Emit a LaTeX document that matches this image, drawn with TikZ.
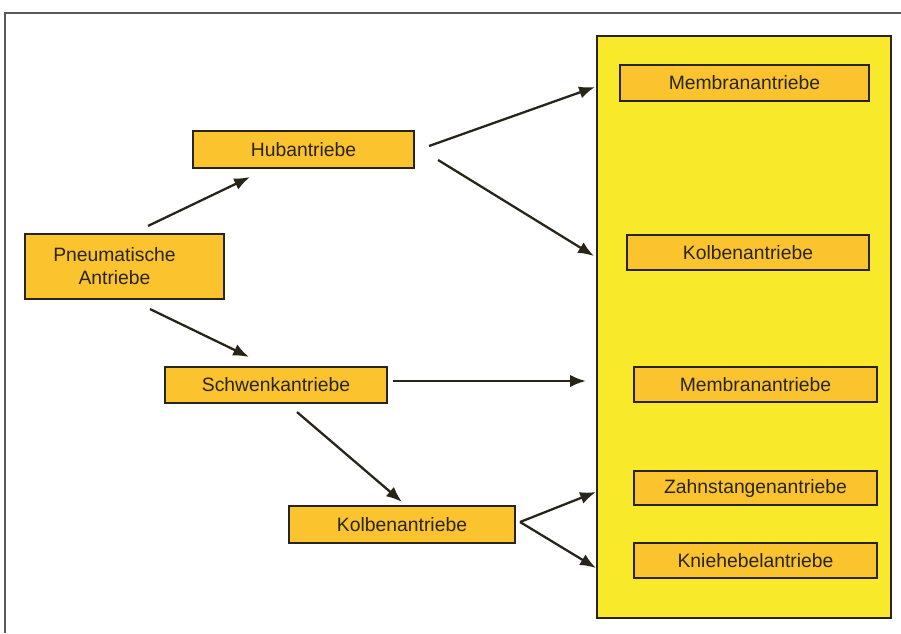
\documentclass[tikz,border=0pt]{standalone}
\usepackage{fontspec}
\setmainfont{Liberation Sans}
\usepackage{xcolor}
\usepackage{tikz}
\usetikzlibrary{arrows.meta}
\definecolor{boxfill}{RGB}{251,196,46}
\definecolor{panelfill}{RGB}{248,234,42}
\definecolor{inkdark}{RGB}{40,36,24}
\tikzset{box/.style={rectangle,draw=inkdark,fill=boxfill,line width=1.2pt,text=inkdark,inner sep=0pt,font=\fontsize{11}{13}\selectfont},
  arr/.style={->,draw=inkdark,line width=1.3pt}}

\begin{document}
\begin{tikzpicture}[>={Latex[length=9pt,width=7pt]}]
        \useasboundingbox (0,0) rectangle (18.02,12.66);
        \draw [gray!70!black,line width=0.9pt] (0.1,0) -- (0.1,12.4) -- (18.02,12.4);

        \node[rectangle,draw=inkdark,fill=panelfill,line width=1.3pt,minimum width=5.88cm,minimum height=11.64cm] (panel) at (14.88,6.12) {};

        \node[box,minimum width=3.98cm,minimum height=1.30cm,align=center,text width=3.5cm] (pneu) at (2.49,7.33) {\hspace*{-0.4cm}Pneumatische\\\hspace*{-0.4cm}Antriebe};
        \node[box,minimum width=4.42cm,minimum height=0.74cm] (hub) at (6.07,9.67) {Hubantriebe};
        \node[box,minimum width=4.44cm,minimum height=0.72cm] (schwenk) at (5.52,4.96) {Schwenkantriebe};
        \node[box,minimum width=4.52cm,minimum height=0.74cm] (kolbenL) at (8.04,2.17) {Kolbenantriebe};

        \node[box,minimum width=4.98cm,minimum height=0.72cm] (memA) at (14.89,11.00) {Membranantriebe};
        \node[box,minimum width=4.84cm,minimum height=0.70cm] (kolbenR) at (14.96,7.61) {Kolbenantriebe};
        \node[box,minimum width=4.86cm,minimum height=0.70cm] (memB) at (15.11,4.97) {Membranantriebe};
        \node[box,minimum width=4.86cm,minimum height=0.68cm] (zahn) at (15.11,2.90) {Zahnstangenantriebe};
        \node[box,minimum width=4.86cm,minimum height=0.70cm] (knie) at (15.11,1.45) {Kniehebelantriebe};

        \draw [arr] ([shift={(0.47,0.14)}]pneu.north) -- ([shift={(-1.07,-0.16)}]hub.south);
        \draw [arr] ([shift={(0.51,-0.18)}]pneu.south) -- ([shift={(-0.54,0.18)}]schwenk.north);
        \draw [arr] ([shift={(0.28,0.07)}]hub.east) -- ([shift={(-0.48,-0.08)}]memA.west);
        \draw [arr] ([shift={(0.46,-0.21)}]hub.east) -- ([shift={(-0.64,-0.07)}]kolbenR.west);
        \draw [arr] ([shift={(0.10,0.08)}]schwenk.east) -- ([shift={(-0.94,0.07)}]memB.west);
        \draw [arr] ([shift={(0.42,-0.16)}]schwenk.south) -- ([shift={(0,0.06)}]kolbenL.north);
        \draw [arr] ([shift={(0.08,0.05)}]kolbenL.east) -- ([shift={(-0.74,-0.08)}]zahn.west);
        \draw [arr] ([shift={(0.08,0.05)}]kolbenL.east) -- ([shift={(-0.74,-0.15)}]knie.west);
    \end{tikzpicture}
\end{document}
